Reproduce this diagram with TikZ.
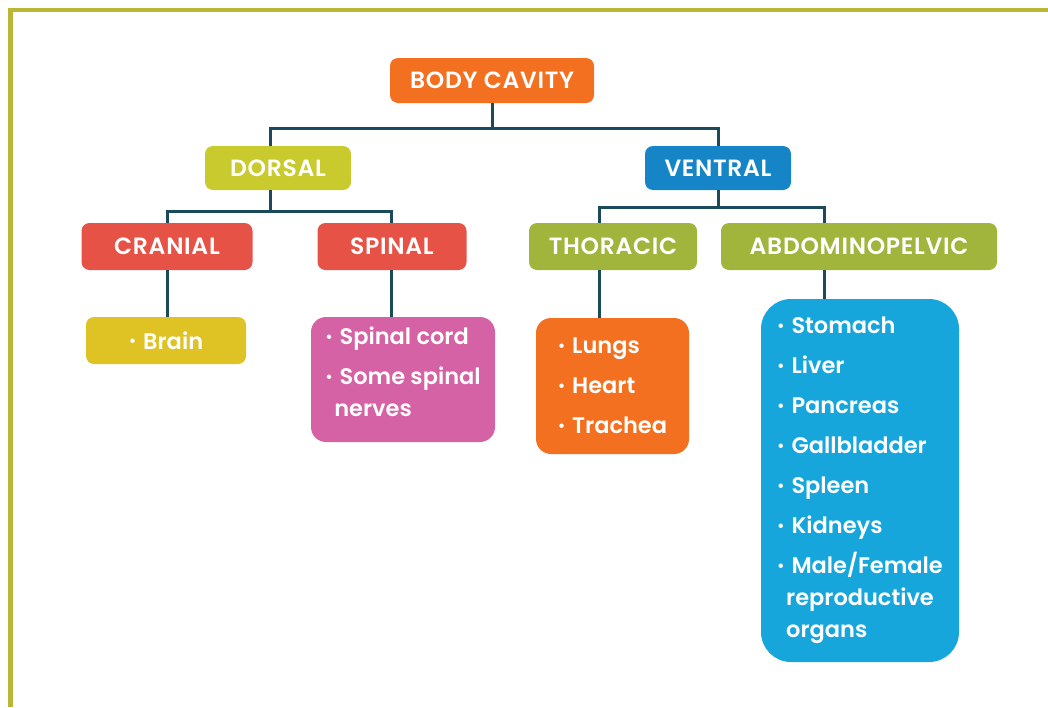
\documentclass[tikz,border=0pt]{standalone}
\usepackage{fontspec}
\setmainfont{Poppins}[BoldFont={Poppins SemiBold}]
\usetikzlibrary{positioning,calc}
\definecolor{frame}{HTML}{B8B836}
\definecolor{wire}{HTML}{1A4A5C}
\definecolor{orng}{HTML}{F37021}
\definecolor{lime}{HTML}{C9CA2D}
\definecolor{azure}{HTML}{1585C8}
\definecolor{brick}{HTML}{E65245}
\definecolor{moss}{HTML}{A1B53C}
\definecolor{gold}{HTML}{DFC224}
\definecolor{rose}{HTML}{D462A4}
\definecolor{sky}{HTML}{17A6DC}
\newcommand{\bul}{\raisebox{0.1em}{\scalebox{0.7}{\textbullet}}\hspace{0.3em}}
\newcommand{\cont}{\hspace{0.4em}}
\tikzset{
 hdr/.style={rounded corners=8pt,text=white,inner sep=0pt,
  font=\bfseries\fontsize{23.5}{27}\selectfont\addfontfeature{LetterSpace=3}},
 lst/.style={text=white,inner sep=0pt,align=left,
  font=\bfseries\fontsize{22.5}{32}\selectfont},
 link/.style={draw=wire,line width=3pt}
}
\begin{document}
\begin{tikzpicture}[x=1pt,y=-1pt]
 \useasboundingbox (0,0) rectangle (1048,707);
 \draw[frame,line width=4.5pt] (10.5,707)--(10.5,10)--(1048,10);
 % headings
 \foreach \n/\x/\y/\w/\h/\c/\t in {body/492/80.5/204/45/orng/BODY CAVITY,
   dorsal/278/168/146/44/lime/DORSAL,ventral/718/168/146/44/azure/VENTRAL,
   cranial/167/246.5/171/47/brick/CRANIAL,spinal/392/246.5/149/47/brick/SPINAL,
   thoracic/613/246.5/168/47/moss/THORACIC,abdo/859/246.5/276/47/moss/ABDOMINOPELVIC}{
  \node[hdr,fill=\c,minimum width=\w,minimum height=\h] (\n) at (\x,\y) {\t};
 }
 % lists
 \node[lst,fill=gold,rounded corners=8pt,minimum width=160,minimum height=47]
  (brain) at (166,340.5) {\bul Brain};
 \node[lst,fill=rose,rounded corners=15pt,minimum width=184,minimum height=125]
  (cord) at (403,379.5) {\bul Spinal cord\\[8pt]\bul Some spinal\\\cont nerves\rule[-16pt]{0pt}{1pt}};
 \node[lst,fill=orng,rounded corners=15pt,minimum width=153,minimum height=136]
  (chest) at (612.5,386) {\bul Lungs\\[8pt]\bul Heart\\[8pt]\bul Trachea};
 \node[lst,fill=sky,rounded corners=30pt,minimum width=198,minimum height=363]
  (organs) at (860,480.5) {\bul Stomach\\[8pt]\bul Liver\\[8pt]\bul Pancreas\\[8pt]\bul Gallbladder\\[8pt]\bul Spleen\\[8pt]\bul Kidneys\\[8pt]\bul Male/Female\\\cont reproductive\\\cont organs};
 % tree
 \draw[link] (body.south)--++(0,25.5)-|($(dorsal.north)+(-8,0)$);
 \draw[link] (body.south)--++(0,25.5)-|(ventral.north);
 \draw[link] ($(dorsal.south)+(-8,0)$)--++(0,21)-|(cranial.north);
 \draw[link] ($(dorsal.south)+(-8,0)$)--++(0,21)-|($(spinal.north)+(-1,0)$);
 \draw[link] (ventral.south)--++(0,17)-|($(thoracic.north)+(-14,0)$);
 \draw[link] (ventral.south)--++(0,17)-|($(abdo.north)+(-35,0)$);
 \draw[link] (cranial.south)--(cranial.south|-brain.north);
 \draw[link] ($(spinal.south)+(-1,0)$)--($(spinal.south|-cord.north)+(-1,0)$);
 \draw[link] ($(thoracic.south)+(-14,0)$)--($(thoracic.south|-chest.north)+(-14,0)$);
 \draw[link] ($(abdo.south)+(-35,0)$)--($(abdo.south|-organs.north)+(-35,0)$);
\end{tikzpicture}
\end{document}
